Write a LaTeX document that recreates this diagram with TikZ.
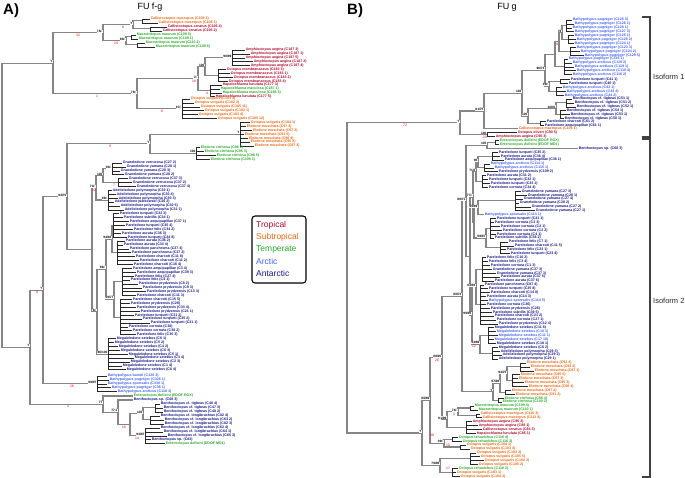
\documentclass[tikz,border=0pt]{standalone}
\usepackage{fontspec}
\setmainfont{Liberation Sans}
\usetikzlibrary{calc}
\definecolor{tr}{RGB}{175,10,45}
\definecolor{st}{RGB}{232,105,20}
\definecolor{te}{RGB}{40,170,40}
\definecolor{ar}{RGB}{70,100,245}
\definecolor{an}{RGB}{25,25,135}
\tikzset{
 br/.style={draw=black!48, line width=1.1pt},
 tipline/.style={draw=black!85, line width=0.55pt},
 lab/.style={font=\fontsize{3.6}{4}\selectfont\bfseries, inner xsep=0.6pt, inner ysep=0pt, anchor=west},
 bs/.style={font=\fontsize{3.2}{3.4}\selectfont\bfseries, fill=white, inner sep=0.3pt, text=black},
 rd/.style={font=\fontsize{3.4}{3.6}\selectfont, text=red, inner sep=0.2pt},
 legtxt/.style={font=\fontsize{8.5}{10}\selectfont, anchor=west, inner sep=0pt},
 head/.style={font=\fontsize{15}{17}\selectfont\bfseries, anchor=base west, inner sep=0pt},
 ttl/.style={font=\fontsize{9}{11}\selectfont, anchor=base, inner sep=0pt},
 brk/.style={draw=black!75, line width=2pt},
 iso/.style={font=\fontsize{7.5}{9}\selectfont, anchor=west, inner sep=0pt, text=black!85},
}
% block of leaves: name, node x, first y, list colour/offset/text
\newcommand\block[4]{%
  \foreach \lcol/\loff/\lname [count=\i from 0] in {#4} {%
    \pgfmathsetmacro\yy{#3+3.9*\i}%
    \draw[tipline] (#2,\yy) -- ({#2+\loff},\yy) node[lab,text=\lcol]{\lname};%
    \xdef\ylast{\yy}%
  }%
  \draw[tipline] (#2,#3) -- (#2,\ylast);%
  \pgfmathsetmacro\ymid{(#3+\ylast)/2}%
  \coordinate (#1) at (#2,\ymid);%
}
\newcommand\leaf[5]{\coordinate (#1) at (#2,#3); \node[lab,text=#4] (#1-t) at (#1) {#5};}
\newcommand\inode[4]{%
  \path let \p1=(#3), \p2=(#4) in coordinate (#1) at ({#2pt},{0.5*\y1+0.5*\y2});%
  \draw[br] (#3) -- (#3 -| #1) -- (#4 -| #1) -- (#4);%
}
\newcommand\bsl[2]{\node[bs,anchor=south east] at (#1) {#2};}
\newcommand\rdl[3]{\node[rd,anchor=north] at ($(#1)+(-#2,0.8)$) {#3};}

\begin{document}
\begin{tikzpicture}[x=1pt,y=-1pt]
\useasboundingbox (0,0) rectangle (685,478);
\fill[white] (0,0) rectangle (685,478);

% ---------------- headers
\node[head] (hA) at (3,15) {A)};
\node[ttl] (tA) at (150,10) {FU f-g};
\node[head] (hB) at (347,15) {B)};
\node[ttl] (tB) at (507,10) {FU g};

% ================= PANEL A
\block{a1}{142}{19}{st/8/Callistoctopus macropus (C108 3), st/16/Callistoctopus macropus (C108 1)}
\block{a2}{150}{27}{tr/17/Callistoctopus ornatus (C106 4), tr/12/Callistoctopus ornatus (C106 2)}
\inode{a3}{133}{a1}{a2}
\block{a4}{131}{35}{te/5/Macrotritopus maorum (C109 5), te/7/Macrotritopus maorum (C109 1)}
\block{a5}{137}{43}{te/8/Macrotritopus maorum (C110 2), te/18/Macrotritopus maorum (C109 6)}
\inode{a6}{126}{a4}{a5}
\inode{a7}{103}{a3}{a6}
\block{a8}{232}{50}{tr/13/Amphioctopus aegina (C187 3), tr/18/Amphioctopus aegina (C187 1), tr/13/Amphioctopus aegina (C187 5), tr/21/Amphioctopus aegina (C187 2), tr/18/Amphioctopus aegina (C187 4)}
\block{a9}{218}{69.5}{tr/8/Octopus membranaceus (C183 3), tr/12/Octopus membranaceus (C183 1), tr/15/Octopus membranaceus (C183 2), tr/10/Octopus membranaceus (C183 4)}
\inode{a10}{205}{a8}{a9}
\block{a11}{210}{85}{tr/12/Hapalochlaena lunulata (C177 3), te/10/Hapalochlaena maculosa (C187 1), te/12/Hapalochlaena maculosa (C186 3), tr/5/Hapalochlaena lunulata (C177 5)}
\inode{a12}{198}{a10}{a11}
\block{a13}{182}{99}{st/8/Octopus vulgaris (C103 3), st/12/Octopus vulgaris (C102 2), st/18/Octopus vulgaris (C105 11), st/22/Octopus vulgaris (C102 1), st/16/Octopus vulgaris (C103 4), st/35/Octopus vulgaris (C105 12)}
\inode{a14}{137}{a12}{a13}
\inode{a15}{53}{a7}{a14}
\block{a16}{240}{122.5}{st/10/Octopus vulgaris (C104 1), st/6/Eledone moschata (C97 4), st/12/Eledone moschata (C97 2), st/4/Eledone moschata (C91 5), st/8/Eledone moschata (C96 4), st/10/Eledone moschata (C95 2), st/14/Eledone moschata (C97 3)}
\block{a17}{196}{147.5}{te/4/Eledone cirrhosa (C96 2), te/8/Eledone cirrhosa (C95 3), te/20/Eledone cirrhosa (C98 5), te/14/Eledone cirrhosa (C105 1)}
\inode{a18}{150}{a16}{a17}
\block{a19}{112}{163}{an/10/Graneledone verrucosa (C27 2), an/14/Graneledone yamana (C28 1), an/8/Graneledone yamana (C28 3), an/12/Graneledone yamana (C28 2)}
\block{a20}{118}{178.6}{an/10/Graneledone verrucosa (C37 3), an/14/Graneledone verrucosa (C37 2), an/18/Graneledone verrucosa (C37 4)}
\inode{a21}{103}{a19}{a20}
\block{a22}{108}{190.3}{an/4/Adelieledone polymorpha (C30 1), an/8/Adelieledone polymorpha (C30 4), an/10/Adelieledone polymorpha (C30 3), an/6/Adelieledone piatkowski (C30 2), an/12/Adelieledone polymorpha (C30 5), an/16/Adelieledone polymorpha (C31 1)}
\inode{a23}{96}{a21}{a22}
\block{a24}{113}{213.7}{an/6/Pareledone turqueti (C32 2), an/10/Pareledone subtilis (C34 1), an/16/Pareledone aequipapillae (C37 1), an/12/Pareledone turqueti (C35 4), an/20/Pareledone felix (C34 2), an/8/Pareledone aurata (C36 3), an/14/Pareledone turqueti (C34 8)}
\block{a25}{117}{241}{an/8/Pareledone aurata (C36 2), an/6/Pareledone aurata (C33 4), an/12/Pareledone panchroma (C37 4), an/14/Pareledone panchroma (C37 2), an/18/Pareledone charcoti (C11 8), an/22/Pareledone charcoti (C11 2), an/16/Pareledone charcoti (C16 4)}
\block{a26}{122}{268.3}{an/10/Pareledone aequipapillae (C3 4), an/14/Pareledone aequipapillae (C39 3), an/12/Pareledone felix (C27 4), an/8/Pareledone felix (C4 1), an/16/Pareledone prydzensis (C8 2), an/20/Pareledone prydzensis (C9 3), an/24/Pareledone prydzensis (C13 3), an/14/Pareledone charcoti (C11 3)}
\block{a27}{120}{299.5}{an/12/Pareledone charcoti (C15 5), an/10/Pareledone prydzensis (C28), an/16/Pareledone prydzensis (C33 4), an/20/Pareledone prydzensis (C21 1), an/14/Pareledone turqueti (C31 2), an/22/Pareledone turqueti (C35 2), an/30/Pareledone turqueti (C31 1), an/8/Pareledone cornuta (C38), an/12/Pareledone cornuta (C38 2), an/16/Pareledone felix (C35 3)}
\inode{a28}{112}{a24}{a25}
\inode{a29}{114}{a26}{a27}
\inode{a30}{106}{a28}{a29}
\block{a31}{108}{338.5}{an/8/Megaleledone setebos (C6 1), an/6/Megaleledone setebos (C5 2), an/10/Megaleledone setebos (C4 2), an/12/Megaleledone setebos (C6 3), an/20/Megaleledone setebos (C5 1), an/26/Megaleledone setebos (C3 4), an/22/Megaleledone setebos (C2 3), an/14/Megaleledone setebos (C1 4), an/18/Megaleledone setebos (C6 4)}
\inode{a32}{97}{a30}{a31}
\inode{a33}{92}{a23}{a32}
\inode{a34}{67}{a18}{a33}
\block{a35}{97}{376}{ar/10/Bathypolypus bairdii (C120 3), ar/12/Bathypolypus pugniger (C326 1), ar/10/Bathypolypus sponsalis (C330 1), ar/14/Bathypolypus pugniger (C36 1), ar/20/Bathypolypus arcticus (C118 3)}
\inode{a36}{43}{a34}{a35}
\leaf{a37}{133}{396}{te}{Enteroctopus dofleini (EDOF RGX)}
\leaf{a38}{133}{400}{an}{Benthoctopus sp. (C68 3)}
\block{a39}{155}{404}{an/5/Benthoctopus cf. tigbeas (C48 4), an/8/Benthoctopus cf. tigbeas (C47 3), an/8/Benthoctopus cf. tigbeas (C48 2)}
\block{a40}{150}{416}{an/10/Benthoctopus cf. longibrachius (C82 4), an/14/Benthoctopus cf. longibrachius (C63 2), an/14/Benthoctopus cf. longibrachius (C82 3)}
\inode{a41}{143}{a39}{a40}
\block{a42}{145}{428}{an/15/Benthoctopus cf. longibrachius (C62 4), an/18/Benthoctopus cf. longibrachius (C64 1), an/22/Benthoctopus cf. longibrachius (C65 3), an/6/Benthoctopus sp. (C83), te/20/Enteroctopus dofleini (EDOF MD1)}
\inode{a43}{130}{a41}{a42}
\inode{a44}{118}{a38}{a43}
\inode{a45}{103}{a37}{a44}
\inode{a46}{30}{a36}{a45}
\inode{a47}{2}{a15}{a46}

% bootstrap / red labels A
\bsl{a3}{Y}\bsl{a6}{99/-}\bsl{a7}{78/-}\bsl{a15}{Y}\bsl{a14}{78/-}\bsl{a12}{7/-}
\bsl{a10}{100}\bsl{a8}{90/99}\bsl{a13}{97/-}\bsl{a18}{Y}\bsl{a16}{Y}\bsl{a17}{100}
\bsl{a34}{94/70}\bsl{a21}{100}\bsl{a19}{90/-}\bsl{a22}{99/-}\bsl{a23}{70/-}
\bsl{a30}{96/-}\bsl{a28}{94/93}\bsl{a29}{99/77}\bsl{a32}{78/-}\bsl{a31}{86/100}
\bsl{a36}{Y}\bsl{a35}{99/97}\bsl{a45}{77}\bsl{a44}{77.1}\bsl{a41}{100}\bsl{a42}{93/97}\bsl{a46}{Y}
\rdl{a7}{25}{32}\rdl{a14}{40}{1}\rdl{a13}{20}{8}\rdl{a6}{10}{29}\rdl{a3}{10}{8}
\rdl{a12}{4}{18}\rdl{a11}{3}{4}\rdl{a18}{40}{9}\rdl{a23}{2}{22}\rdl{a36}{6}{8}
\rdl{a35}{25}{26}\rdl{a45}{35}{4}\rdl{a43}{6}{16}\rdl{a42}{8}{14}\rdl{a20}{4}{7}

% legend
\node[draw, line width=1.1pt, rounded corners=3pt, minimum width=54pt, minimum height=67pt, inner sep=0pt] (legend) at (279,249.5) {};
\node[legtxt,text=tr] (lg1) at (256,225) {Tropical};
\node[legtxt,text=st] (lg2) at (256,237) {Subtropical};
\node[legtxt,text=te] (lg3) at (256,249) {Temperate};
\node[legtxt,text=ar] (lg4) at (256,261) {Arctic};
\node[legtxt,text=an] (lg5) at (256,273) {Antarctic};

% ================= PANEL B
\block{b1}{566}{20}{ar/6/Bathypolypus pugniger (C126 3), ar/8/Bathypolypus pugniger (C126 1), ar/6/Bathypolypus pugniger (C128 1), ar/8/Bathypolypus pugniger (C127 3)}
\block{b2}{568}{35.6}{ar/6/Bathypolypus pugniger (C125 1), ar/8/Bathypolypus pugniger (C125 2), ar/6/Bathypolypus pugniger (C124 1)}
\block{b3}{570}{47.3}{ar/6/Bathypolypus pugniger (C123 3), ar/10/Bathypolypus pugniger (C124 2), ar/14/Bathypolypus pugniger (C129 5)}
\inode{b4}{562}{b1}{b2}
\inode{b5}{559}{b4}{b3}
\block{b6}{564}{59}{ar/4/Bathypolypus pugniger (C116 1), ar/8/Bathypolypus arcticus (C119 2), ar/10/Bathypolypus arcticus (C119 1), ar/12/Bathypolypus arcticus (C118 4), ar/8/Bathypolypus arcticus (C116 2)}
\inode{b7}{555}{b5}{b6}
\block{b8}{560}{79.5}{an/10/Pareledone turqueti (C41 1), an/8/Pareledone turqueti (C40 1)}
\block{b9}{556}{87.5}{ar/6/Bathypolypus arcticus (C43 1), ar/10/Bathypolypus arcticus (C43 4), ar/8/Bathypolypus arcticus (C44 2)}
\inode{b10}{549}{b8}{b9}
\inode{b11}{545}{b7}{b10}
\block{b12}{566}{99}{an/6/Benthoctopus cf. tigbeas (C51 1), an/8/Benthoctopus cf. tigbeas (C51 2), an/10/Benthoctopus cf. tigbeas (C52 1)}
\block{b13}{560}{110.5}{an/6/Benthoctopus cf. tigbeas (C54 1), an/10/Benthoctopus cf. tigbeas (C53 1), an/4/Benthoctopus cf. tigbeas (C50 1)}
\inode{b14}{556}{b12}{b13}
\block{b15}{540}{121.5}{an/6/Pareledone charcoti (C61 2), an/4/Pareledone aequipapillae (C61 1)}
\inode{b16}{528}{b14}{b15}
\inode{b17}{522}{b11}{b16}
\leaf{b18}{518}{128.8}{st}{Callistoctopus macropus (C106 1)}
\inode{b19}{484}{b17}{b18}
\block{b20}{487}{132.7}{tr/30/Octopus oliveri (C90 5), tr/8/Amphioctopus aegina (C90 3)}
\inode{b21}{460}{b19}{b20}

\block{b22}{495}{140.5}{te/4/Enteroctopus dofleini (EDOF RGX), te/4/Enteroctopus dofleini (EDOF MD1)}
\leaf{b23}{578}{148.3}{an}{Benthoctopus sp. (C68 3)}
\inode{b24}{487}{b22}{b23}
\block{b25}{492}{152.2}{an/6/Pareledone turqueti (C35 2), an/8/Pareledone aurata (C36 4), an/12/Pareledone aequipapillae (C36 1)}
\block{b26}{484}{163.9}{ar/6/Bathypolypus arcticus (C114 1), ar/10/Bathypolypus arcticus (C115 1), an/14/Pareledone prydzensis (C109 2)}
\inode{b36}{478}{b25}{b26}
\block{b27}{482}{175.6}{an/4/Pareledone aurata (C31 2), an/6/Pareledone turqueti (C32 1), an/8/Pareledone turqueti (C33 1), an/6/Pareledone cornuta (C34 4)}
\inode{b37}{476}{b36}{b27}
\block{b28}{515}{191.2}{an/6/Graneledone yamana (C27 3), an/12/Graneledone yamana (C28 1), an/8/Graneledone yamana (C27 4), an/4/Graneledone yamana (C28 2), an/16/Graneledone yamana (C27 2), an/20/Graneledone yamana (C27 1)}
\leaf{b29}{484}{214.6}{ar}{Bathypolypus sponsalis (C113 1)}
\inode{b38}{478}{b28}{b29}
\block{b30}{490}{218.5}{an/6/Pareledone turqueti (C41 1), an/4/Pareledone cornuta (C3 3), an/10/Pareledone cornuta (C2 1), an/12/Pareledone cornuta (C2 2), an/6/Pareledone cornuta (C4 1), an/4/Pareledone subtilis (C38 2)}
\block{b31}{500}{241.9}{an/8/Pareledone felix (C7 1), an/14/Pareledone charcoti (C11 5), an/6/Pareledone felix (C23 1), an/10/Pareledone turqueti (C23 4)}
\inode{b39}{486}{b30}{b31}
\inode{b40}{474}{b38}{b39}
\inode{b41}{473}{b37}{b40}
\block{b32}{482}{257.5}{an/4/Pareledone felix (C10 2), an/6/Pareledone felix (C3 4), an/8/Pareledone cornuta (C1 3), an/10/Graneledone yamana (C37 3), an/14/Graneledone yamana (C37 1), an/18/Pareledone aurata (C37 5), an/12/Pareledone aurata (C37 6)}
\block{b33}{480}{284.8}{an/4/Pareledone panchroma (C87 4), an/8/Pareledone turqueti (C35 8), an/10/Pareledone charcoti (C14 8), an/6/Pareledone aurata (C14 3), ar/8/Bathypolypus sponsalis (C114 5), an/6/Pareledone cornuta (C36), an/10/Pareledone prydzensis (C26), an/12/Pareledone subtilis (C39 5), an/14/Pareledone charcoti (C21 2), an/16/Pareledone cornuta (C27 1), an/18/Pareledone prydzensis (C12 4)}
\inode{b42}{476}{b32}{b33}
\block{b34}{488}{327.7}{an/6/Megaleledone setebos (C11 6), ar/8/Megaleledone setebos (C10 1), ar/10/Megaleledone setebos (C11 1), ar/6/Megaleledone setebos (C17 10), an/8/Megaleledone setebos (C18 1)}
\block{b35}{492}{347.2}{an/6/Megaleledone setebos (C6 2), an/8/Adelieledone polymorpha (C29 3), an/10/Adelieledone polymorpha (C29 2), an/6/Adelieledone polymorpha (C29 1)}
\inode{b43}{480}{b34}{b35}
\inode{b44}{472}{b42}{b43}
\inode{b45}{470}{b41}{b44}
\inode{b46}{466}{b24}{b45}
\block{b47}{520}{363}{st/6/Eledone moschata (C92 4), st/10/Eledone moschata (C93 2), st/14/Eledone moschata (C97 1)}
\block{b48}{512}{374.7}{st/8/Eledone moschata (C95 5), st/6/Eledone moschata (C97 3), st/12/Eledone moschata (C95 3), st/16/Eledone moschata (C96 4)}
\inode{b51}{507}{b47}{b48}
\block{b49}{505}{390.3}{st/6/Eledone moschata (C97 2), st/10/Eledone moschata (C91 2)}
\inode{b52}{500}{b51}{b49}
\block{b50}{498}{398.1}{te/6/Eledone cirrhosa (C98 4), te/4/Eledone cirrhosa (C100 2)}
\inode{b53}{493}{b52}{b50}
\inode{b54}{462}{b46}{b53}
\block{b55}{470}{406}{te/4/Macrotritopus maorum (C109 4), te/8/Macrotritopus maorum (C110 1)}
\block{b56}{476}{413.8}{st/4/Callistoctopus macropus (C110 3), st/6/Callistoctopus macropus (C112 4)}
\inode{b57}{458}{b55}{b56}
\block{b58}{466}{421.6}{tr/6/Amphioctopus aegina (C90 2), tr/12/Amphioctopus aegina (C88 1), tr/16/Callistoctopus ornatus (C84 3), tr/10/Hapalochlaena lunulata (C85 1)}
\inode{b59}{447}{b57}{b58}
\inode{b60}{442}{b54}{b59}
\block{b61}{452}{437.2}{te/6/Octopus tehuelchus (C116 4), te/10/Octopus tehuelchus (C116 3)}
\block{b62}{460}{445}{st/6/Octopus vulgaris (C104 1), st/10/Octopus vulgaris (C103 4)}
\inode{b63}{444}{b61}{b62}
\block{b64}{470}{452.8}{st/6/Octopus vulgaris (C103 3), st/10/Octopus vulgaris (C105 5), st/14/Octopus vulgaris (C102 3), st/8/Octopus vulgaris (C105 2)}
\block{b65}{452}{468.4}{te/6/Octopus tehuelchus (C116 2), st/4/Octopus vulgaris (C103 1), st/8/Octopus vulgaris (C104 3)}
\inode{b66}{440}{b64}{b65}
\inode{b67}{430}{b60}{b63}
\inode{b68}{422}{b67}{b66}
\inode{b69}{347}{b21}{b68}

% bootstrap / red labels B
\bsl{b21}{Y}\bsl{b19}{81/75}\bsl{b17}{100}\bsl{b11}{96/73}\bsl{b4}{76}\bsl{b16}{100}
\bsl{b14}{100/1}\bsl{b20}{100}\bsl{b24}{105}\bsl{b46}{88/71}\bsl{b54}{88/73}\bsl{b60}{88/95}
\bsl{b36}{96}\bsl{b37}{71/3}\bsl{b38}{99/99}\bsl{b39}{99/97}\bsl{b42}{84/93}\bsl{b43}{94/89}
\bsl{b44}{99/95}\bsl{b53}{Y}\bsl{b51}{94/75}\bsl{b52}{97/98}\bsl{b57}{78/-}\bsl{b59}{61/99}
\bsl{b63}{99/-}\bsl{b66}{79/98}\bsl{b67}{88/89}\bsl{b68}{Y}\bsl{b10}{99/-}\bsl{b41}{77/-}
\rdl{b21}{55}{72}\rdl{b5}{2}{8}\rdl{b60}{5}{26}\rdl{b57}{4}{4}\rdl{b20}{2}{20}
\rdl{b43}{6}{12}\rdl{b63}{-4}{10}\rdl{b68}{-10}{38}\rdl{b66}{-8}{17}

% isoform brackets
\coordinate (i1t) at (642,17);
\coordinate (i1b) at (642,137);
\coordinate (i2t) at (642,139.5);
\coordinate (i2b) at (642,476.5);
\draw[brk] (i1t) -- ++(8,0) |- (i1b);
\draw[brk] (i2t) -- ++(8,0) |- (i2b);
\node[iso] (iso1) at (653,77) {Isoform 1};
\node[iso] (iso2) at (653,301) {Isoform 2};
\end{tikzpicture}
\end{document}
